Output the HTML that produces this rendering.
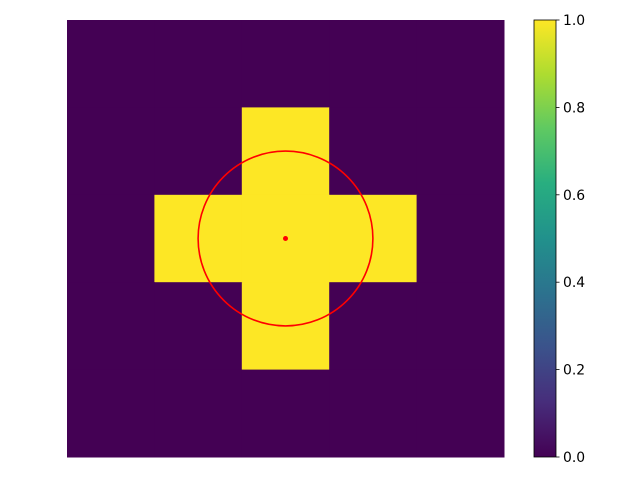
<!DOCTYPE html>
<html><head><meta charset="utf-8"><style>
body{margin:0;background:#fff;width:640px;height:480px;overflow:hidden}
svg text{font-family:"DejaVu Sans","Liberation Sans",sans-serif;font-size:13.9px;fill:#000}
</style></head><body>
<svg id="chart" width="640" height="480">
<defs><linearGradient id="vir" x1="0" y1="1" x2="0" y2="0">
<stop offset="0" stop-color="#440154"/><stop offset="0.125" stop-color="#472d7b"/>
<stop offset="0.25" stop-color="#3b528b"/><stop offset="0.375" stop-color="#2c728e"/>
<stop offset="0.5" stop-color="#21918c"/><stop offset="0.625" stop-color="#28ae80"/>
<stop offset="0.75" stop-color="#5ec962"/><stop offset="0.875" stop-color="#addc30"/>
<stop offset="1" stop-color="#fde725"/></linearGradient></defs>
<g id="heat"></g>
<g id="overlay"></g>
<rect x="534" y="20" width="22" height="437" fill="url(#vir)" stroke="#000" stroke-width="0.8"/>
<g id="cbticks"></g>
</svg>
<script>
const grid = [
 [0,0,0,0,0],
 [0,0,1,0,0],
 [0,1,1,1,0],
 [0,0,1,0,0],
 [0,0,0,0,0]
];
const circleCenter = [2, 2];
const circleRadius = 1;
const cbTicks = [0.0, 0.2, 0.4, 0.6, 0.8, 1.0];
const cbLabels = ["0.0","0.2","0.4","0.6","0.8","1.0"];

const X0=67,Y0=20,W=437,H=437,n=grid.length,cs=W/n;
const ns="http://www.w3.org/2000/svg";
const xs=c=>X0+(c+0.5)*cs, ys=r=>Y0+(r+0.5)*cs;
const heat=document.getElementById('heat');
grid.forEach((row,r)=>row.forEach((v,c)=>{
 const e=document.createElementNS(ns,'rect');
 e.setAttribute('x',X0+c*cs);e.setAttribute('y',Y0+r*cs);
 e.setAttribute('width',cs+0.5);e.setAttribute('height',cs+0.5);
 e.setAttribute('fill',v>=0.5?'#fde725':'#440154');
 
 
 heat.appendChild(e);
}));
const ov=document.getElementById('overlay');
const ci=document.createElementNS(ns,'circle');
ci.setAttribute('cx',xs(circleCenter[0]));ci.setAttribute('cy',ys(circleCenter[1]));
ci.setAttribute('r',circleRadius*cs);ci.setAttribute('fill','none');
ci.setAttribute('stroke','#ff0000');ci.setAttribute('stroke-width','1.6');


ov.appendChild(ci);
const d=document.createElementNS(ns,'circle');
d.setAttribute('cx',xs(circleCenter[0]));d.setAttribute('cy',ys(circleCenter[1]));
d.setAttribute('r',2.5);d.setAttribute('fill','#ff0000');


ov.appendChild(d);
const tg=document.getElementById('cbticks');
cbTicks.forEach((t,i)=>{
 const y=457-t*437;
 const l=document.createElementNS(ns,'line');
 l.setAttribute('x1',556);l.setAttribute('x2',559.5);l.setAttribute('y1',y);l.setAttribute('y2',y);
 l.setAttribute('stroke','#000');l.setAttribute('stroke-width','0.8');
 
 
 tg.appendChild(l);
 const tx=document.createElementNS(ns,'text');
 tx.setAttribute('x',563);tx.setAttribute('y',y+5);tx.textContent=cbLabels[i];
 
 
 tg.appendChild(tx);
});
</script>
</body></html>
